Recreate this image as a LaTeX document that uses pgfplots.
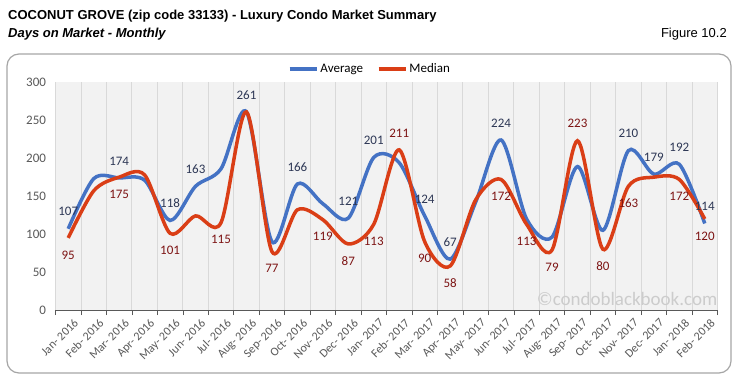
\documentclass[border=0pt]{standalone}
\usepackage{pgfplots}
\pgfplotsset{compat=1.18}
\usepackage{fontspec}
\setmainfont{Carlito}
\newfontfamily\arialfont{Liberation Sans}
\definecolor{avgblue}{RGB}{68,114,196}
\definecolor{medred}{RGB}{218,62,22}
\definecolor{avglab}{RGB}{45,55,85}
\definecolor{medlab}{RGB}{125,20,20}
\definecolor{axgray}{RGB}{89,89,89}
\definecolor{plotbg}{RGB}{242,242,242}
\definecolor{gridc}{RGB}{217,217,217}
\begin{document}
\begin{tikzpicture}
\useasboundingbox (0,0) rectangle (735pt,386pt);
\fill[white] (0,0) rectangle (735pt,386pt);
\draw[black!35, line width=1.2pt, rounded corners=12pt] (7pt,13pt) rectangle (731pt,332pt);
\node[anchor=base west, inner sep=0, font=\arialfont\bfseries\fontsize{13}{15}\selectfont] at (8pt,366pt) {COCONUT GROVE (zip code 33133) - Luxury Condo Market Summary};
\node[anchor=base west, inner sep=0, font=\arialfont\bfseries\itshape\fontsize{13}{15}\selectfont] at (8pt,348pt) {Days on Market - Monthly};
\node[anchor=base east, inner sep=0, font=\arialfont\fontsize{13}{15}\selectfont] at (727pt,348pt) {Figure 10.2};
\begin{axis}[
  at={(55.5pt,76pt)}, anchor=south west,
  scale only axis, width=662pt, height=227.7pt,
  xmin=-0.5, xmax=25.5, ymin=0, ymax=300,
  axis background/.style={fill=plotbg},
  axis x line*=bottom, axis y line*=left,
  x axis line style={-, draw=axgray, line width=0.8pt},
  y axis line style={draw=none},
  ytick={0,50,...,300},
  ytick style={draw=none},
  yticklabel style={font=\fontsize{13}{15}\selectfont, text=axgray, xshift=-6pt},
  /pgf/number format/assume math mode=true,
  xtick={0,...,25},
  major x tick style={draw=none},
  minor xtick={-0.5,0.5,...,25.5},
  minor x tick style={draw=axgray, line width=0.6pt},
  minor tick length=5pt,
  xtick align=outside,
  xminorgrids=true,
  minor x grid style={draw=gridc, line width=0.8pt},
  xticklabels={Jan- 2016, Feb- 2016, Mar- 2016, Apr- 2016, May- 2016, Jun- 2016, Jul- 2016, Aug- 2016, Sep- 2016, Oct- 2016, Nov- 2016, Dec- 2016, Jan- 2017, Feb- 2017, Mar- 2017, Apr- 2017, May- 2017, Jun- 2017, Jul- 2017, Aug- 2017, Sep- 2017, Oct- 2017, Nov- 2017, Dec- 2017, Jan- 2018, Feb- 2018},
  xticklabel style={font=\fontsize{12}{14}\selectfont, text=axgray, rotate=45, anchor=north east, inner sep=1pt, yshift=-5pt, xshift=2pt},
  legend columns=2,
  legend style={draw=none, fill=none, at={(axis description cs:0.475,1.058)}, anchor=center, font=\fontsize{13}{15}\selectfont, /tikz/every even column/.append style={column sep=12pt}, inner sep=0pt},
  legend image code/.code={\draw[#1, line width=3.5pt] (0pt,0pt) -- (27pt,0pt);},
  clip=false,
]
\addplot[avgblue, line width=3.5pt, smooth, tension=0.5, mark=none] coordinates {
(0,107) (1,173) (2,174) (3,171) (4,118) (5,163) (6,186) (7,261) (8,90) (9,166)
(10,140) (11,121) (12,201) (13,194) (14,124) (15,67) (16,142) (17,224) (18,120) (19,96)
(20,189) (21,105) (22,210) (23,179) (24,192) (25,114)};
\addlegendentry{Average}
\addplot[medred, line width=3.5pt, smooth, tension=0.5, mark=none] coordinates {
(0,95) (1,157) (2,175) (3,178) (4,101) (5,124) (6,115) (7,261) (8,77) (9,132)
(10,119) (11,87) (12,113) (13,211) (14,90) (15,58) (16,145) (17,172) (18,113) (19,79)
(20,223) (21,80) (22,163) (23,175) (24,172) (25,120)};
\addlegendentry{Median}
% average labels (above)
\addplot[forget plot, only marks, mark=none, nodes near coords, point meta=explicit symbolic,
  every node near coord/.append style={anchor=center, yshift=17pt, font=\fontsize{13}{15}\selectfont, text=avglab}] coordinates {
(0,107) [107] (2,174) [174] (4,118) [118] (5,163) [163] (7,261) [261] (9,166) [166]
(11,121) [121] (12,201) [201] (14,124) [124] (15,67) [67] (17,224) [224] (22,210) [210]
(23,179) [179] (24,192) [192] (25,114) [114]};
% median labels (below)
\addplot[forget plot, only marks, mark=none, nodes near coords, point meta=explicit symbolic,
  every node near coord/.append style={anchor=center, yshift=-17pt, font=\fontsize{13}{15}\selectfont, text=medlab}] coordinates {
(0,95) [95] (2,175) [175] (4,101) [101] (6,115) [115] (8,77) [77] (10,119) [119]
(11,87) [87] (12,113) [113] (14,90) [90] (15,58) [58] (17,172) [172] (18,113) [113]
(19,79) [79] (21,80) [80] (22,163) [163] (24,172) [172] (25,120) [120]};
% median labels (above)
\addplot[forget plot, only marks, mark=none, nodes near coords, point meta=explicit symbolic,
  every node near coord/.append style={anchor=center, yshift=17pt, font=\fontsize{13}{15}\selectfont, text=medlab}] coordinates {
(13,211) [211] (20,223) [223]};
\node[anchor=base east, inner sep=0, font=\fontsize{19}{21}\selectfont, text=black!20] at (rel axis cs:1,0) [yshift=5pt] {\textcopyright condoblackbook.com};
\end{axis}
\end{tikzpicture}
\end{document}
